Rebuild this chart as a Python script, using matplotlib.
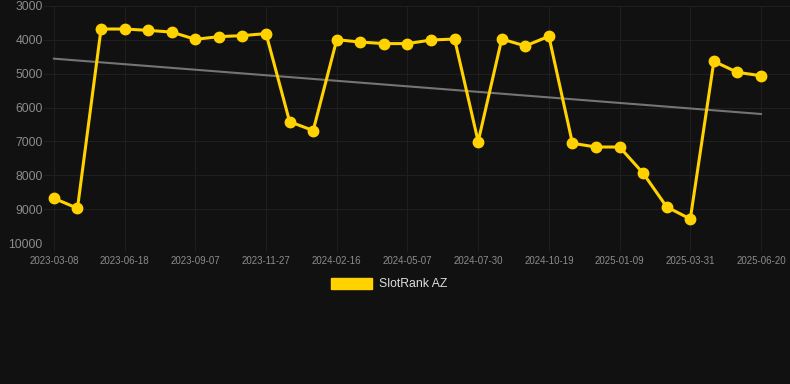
import matplotlib
matplotlib.use("Agg")
import matplotlib.pyplot as plt
from matplotlib.patches import Patch
import numpy as np

# rank per sample (lower is better)
rank = [8680, 8975, 3680, 3680, 3720, 3770, 3985, 3905, 3875, 3815,
        6415, 6680, 3995, 4065, 4110, 4110, 4005, 3975, 7005, 3975,
        4180, 3895, 7055, 7165, 7165, 7940, 8935, 9290, 4635, 4960, 5060]
# every third sample carries a date label
tick_labels = ['2023-03-08', '2023-06-18', '2023-09-07', '2023-11-27',
               '2024-02-16', '2024-05-07', '2024-07-30', '2024-10-19',
               '2025-01-09', '2025-03-31', '2025-06-20']
# grey trend line, start and end values
trend = [4555, 6190]
series_name = 'SlotRank AZ'

bg = '#111111'
grid_c = '#1f1f1f'
gold = '#ffd200'

plt.rcParams['font.family'] = ['Liberation Sans', 'DejaVu Sans']

fig = plt.figure(figsize=(7.9, 3.84), dpi=100, facecolor=bg)
ax = fig.add_axes([44 / 790, 1 - 243 / 384, 1 - 44 / 790, 237 / 384])
ax.set_facecolor(bg)

x = np.arange(len(rank))
ax.plot([x[0], x[-1]], trend, color='#747474', lw=1.5, zorder=2)
ax.plot(x, rank, color=gold, lw=2.2, marker='o', ms=7.5,
        markerfacecolor=gold, markeredgecolor=gold, zorder=3, clip_on=False)

ax.set_xlim(-0.42, 31.23)
ax.set_ylim(10000, 3000)
ax.set_yticks(np.arange(3000, 10001, 1000))
ax.set_xticks(x[::3])
ax.set_xticklabels(tick_labels)

ax.grid(True, color=grid_c, lw=0.8)
ax.set_axisbelow(True)
for s in ax.spines.values():
    s.set_visible(False)
ax.tick_params(axis='y', length=0, pad=1, labelsize=8.7, labelcolor='#8c8c8c')
ax.tick_params(axis='x', length=6, width=0.8, color=grid_c, pad=3,
               labelsize=7, labelcolor='#8c8c8c')

fig.legend(handles=[Patch(facecolor=gold, edgecolor=gold, label=series_name)],
           loc='center', bbox_to_anchor=(0.493, 1 - 284 / 384), frameon=False,
           handlelength=3.3, handleheight=1.0, handletextpad=0.6,
           fontsize=8.8, labelcolor='#dddddd')

fig.savefig('out.png', dpi=100, facecolor=bg)
